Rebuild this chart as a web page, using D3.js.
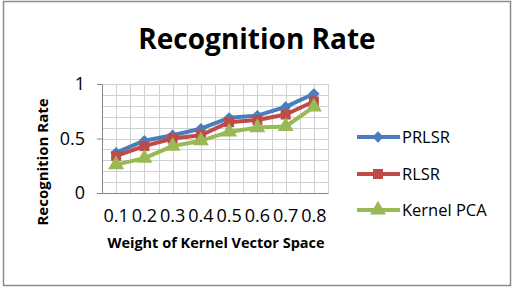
<!DOCTYPE html>
<html>
<head>
<meta charset="utf-8">
<script src="https://cdn.jsdelivr.net/npm/d3@7"></script>
<style>
  body { margin: 0; background: #fff; }
  text { font-family: "Open Sans", "Liberation Sans", sans-serif; fill: #000; }
</style>
</head>
<body>
<div id="chart"></div>
<script>
// data
const weights = ["0.1", "0.2", "0.3", "0.4", "0.5", "0.6", "0.7", "0.8"];
const prlsr = [0.37, 0.48, 0.53, 0.59, 0.69, 0.71, 0.79, 0.91];
const rlsr = [0.34, 0.43, 0.50, 0.53, 0.65, 0.67, 0.72, 0.84];
const kernelPca = [0.26, 0.32, 0.43, 0.48, 0.56, 0.60, 0.61, 0.79];
const yTicks = [0, 0.5, 1];
const seriesNames = ["PRLSR", "RLSR", "Kernel PCA"];

const W = 515, H = 296;
const margin = {top: 84, left: 102, right: 187, bottom: 103};
const width = W - margin.left - margin.right,
  height = H - margin.top - margin.bottom;

const svg = d3.select("#chart").append("svg")
  .attr("width", W)
  .attr("height", H);

// outer frame
svg.append("rect")
  .attr("x", 3.5).attr("y", 1.5)
  .attr("width", 507).attr("height", 284)
  .attr("fill", "#fff")
  .attr("stroke", "#8c8c8c")
  .attr("stroke-width", 1.5);

const g = svg.append("g")
  .attr("transform", "translate(" + margin.left + "," + margin.top + ")");

const x = d3.scaleBand().domain(weights).range([0, width]);
const y = d3.scaleLinear().domain([0, 1]).range([height, 0]);

// minor grid: every 0.1 and every half category
const hLines = d3.range(0, 11).map(i => i / 10);
g.selectAll(".hgrid").data(hLines).enter().append("line")
  .attr("x1", 0).attr("x2", width)
  .attr("y1", d => Math.round(y(d)) + 0.5).attr("y2", d => Math.round(y(d)) + 0.5)
  .attr("stroke", "#d0d0d0").attr("stroke-width", 1);

const vLines = d3.range(0, weights.length * 2 + 1).map(i => i * x.bandwidth() / 2);
g.selectAll(".vgrid").data(vLines).enter().append("line")
  .attr("x1", d => Math.round(d) + 0.5).attr("x2", d => Math.round(d) + 0.5)
  .attr("y1", 0).attr("y2", height)
  .attr("stroke", "#d0d0d0").attr("stroke-width", 1);

// axes
const yAxis = g.append("g")
  .call(d3.axisLeft(y).tickValues(yTicks).tickSize(5).tickPadding(12).tickFormat(d3.format("")));
yAxis.select(".domain").attr("stroke", "#868686");
yAxis.selectAll(".tick line").attr("stroke", "#868686");
yAxis.selectAll("text").style("font-size", "18px");

const xAxis = g.append("g")
  .attr("transform", "translate(0," + height + ")")
  .call(d3.axisBottom(x).tickSize(0).tickPadding(18));
xAxis.select(".domain").attr("stroke", "#868686");
xAxis.selectAll("text").style("font-size", "18px").attr("dy", "0.6em");

// series
const colors = ["#4a7ebb", "#be4b48", "#98b954"];
const symbols = [d3.symbolSquare, d3.symbolSquare, d3.symbolTriangle];
const symSizes = [64, 100, 110];
const symRot = [45, 0, 0];
const allSeries = [prlsr, rlsr, kernelPca];

const line = d3.line()
  .x((d, i) => x(weights[i]) + x.bandwidth() / 2)
  .y(d => y(d));

allSeries.forEach((vals, s) => {
  g.append("path")
    .datum(vals)
    .attr("fill", "none")
    .attr("stroke", colors[s])
    .attr("stroke-width", 4)
    .attr("stroke-linejoin", "round")
    .attr("d", line);
  g.selectAll(".pt" + s).data(vals).enter().append("path")
    .attr("transform", (d, i) => "translate(" + (x(weights[i]) + x.bandwidth() / 2) + "," + y(d) + ") rotate(" + symRot[s] + ")")
    .attr("d", d3.symbol().type(symbols[s]).size(symSizes[s]))
    .attr("fill", colors[s]);
});

// titles
svg.append("text")
  .attr("x", 257).attr("y", 49)
  .attr("text-anchor", "middle")
  .style("font-size", "28px").style("font-weight", "bold")
  .text("Recognition Rate");

svg.append("text")
  .attr("transform", "translate(48,162) rotate(-90)")
  .attr("text-anchor", "middle")
  .style("font-size", "15px").style("font-weight", "bold")
  .text("Recognition Rate");

svg.append("text")
  .attr("x", 216).attr("y", 248)
  .attr("text-anchor", "middle")
  .style("font-size", "14.5px").style("font-weight", "bold")
  .text("Weight of Kernel Vector Space");

// legend
const legend = svg.append("g").attr("transform", "translate(357,0)");
const legendY = [137, 174, 210];
seriesNames.forEach((name, s) => {
  const ly = legendY[s];
  legend.append("line")
    .attr("x1", 0).attr("x2", 43).attr("y1", ly).attr("y2", ly)
    .attr("stroke", colors[s]).attr("stroke-width", 4);
  legend.append("path")
    .attr("transform", "translate(21," + ly + ") rotate(" + symRot[s] + ")")
    .attr("d", d3.symbol().type(symbols[s]).size(symSizes[s]))
    .attr("fill", colors[s]);
  legend.append("text")
    .attr("x", 45).attr("y", ly + 6)
    .style("font-size", "16.5px")
    .text(name);
});
</script>
</body>
</html>
